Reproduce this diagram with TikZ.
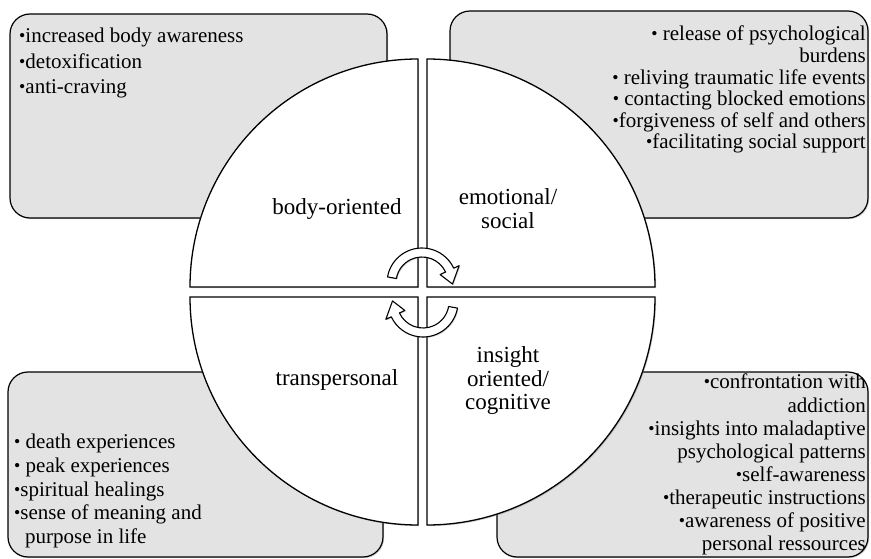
\documentclass[tikz,border=0pt]{standalone}
\usepackage{fontspec}
\setmainfont{Liberation Serif}
\usetikzlibrary{shadows}
\definecolor{boxgrey}{gray}{0.89}
\newcommand\bul[0]{\raisebox{0.05em}{\scalebox{0.85}{\textbullet}}}

\tikzset{
  box/.style={draw=black, line width=1.2pt, fill=boxgrey, rounded corners=20pt,
    drop shadow={shadow xshift=1.2pt, shadow yshift=-1.2pt, opacity=0.35}},
  quad/.style={draw=black, line width=1.3pt, fill=white,
    drop shadow={shadow xshift=1.2pt, shadow yshift=-1.2pt, opacity=0.35}},
  arrowshape/.style={draw=black, line width=1.1pt, fill=white, line join=round,
    drop shadow={shadow xshift=1pt, shadow yshift=-1pt, opacity=0.35}},
  txt/.style={inner sep=0pt, font=\fontsize{21}{23.1}\selectfont},
  lab/.style={inner sep=0pt, align=center, font=\fontsize{23}{23.5}\selectfont},
  cycarrow/.pic={
    \draw[arrowshape] (170:26) -- (170:35) arc[start angle=170, end angle=25, radius=35]
      -- (25:41) -- (-2:30.5) -- (25:20) -- (25:26)
      arc[start angle=25, end angle=170, radius=26] -- cycle;
  }
}

\begin{document}
\begin{tikzpicture}[x=1pt, y=1pt]

\useasboundingbox (0,0) rectangle (871,-559);

\coordinate (UL) at (418,-287);
\coordinate (UR) at (427,-287);
\coordinate (LL) at (418,-297);
\coordinate (LR) at (427,-297);

% grey boxes behind the circle
\draw[box] (10,-14) rectangle (387,-218);
\draw[box] (450,-11) rectangle (868,-218);
\draw[box] (8,-372) rectangle (383,-557);
\draw[box] (497,-372) rectangle (868,-557);

% the four quadrants
\draw[quad] (UL) -- ++(-228,0) arc[start angle=180, end angle=90, radius=228] -- cycle;
\draw[quad] (UR) -- ++(0,228) arc[start angle=90, end angle=0, radius=228] -- cycle;
\draw[quad] (LR) -- ++(228,0) arc[start angle=0, end angle=-90, radius=228] -- cycle;
\draw[quad] (LL) -- ++(0,-228) arc[start angle=-90, end angle=-180, radius=228] -- cycle;

\pic (upper) at (422,-283) {cycarrow};
\pic[rotate=180] (lower) at (423,-302) {cycarrow};

\node[lab] (body) at (337,-209) {body-oriented};
\node[lab] (emo) at (508,-208.5) {emotional/\\social};
\node[lab] (trans) at (337,-380) {transpersonal};
\node[lab] (insight) at (508,-381) {insight\\oriented/\\cognitive};

\node[txt, anchor=north west, align=left, font=\fontsize{21}{25.5}\selectfont] (bodylist) at (19,-28)
  {\bul increased body awareness\\ \bul detoxification\\ \bul anti-craving};
\node[txt, anchor=north east, align=right, font=\fontsize{21}{21.6}\selectfont] (emolist) at (866,-26)
  {\bul\ release of psychological\\ burdens\\ \bul\ reliving traumatic life events\\
   \bul\ contacting blocked emotions\\ \bul forgiveness of self and others\\ \bul facilitating social support};
\node[txt, anchor=north west, align=left, font=\fontsize{21}{23.7}\selectfont] (translist) at (14,-434)
  {\bul\ death experiences\\ \bul\ peak experiences\\ \bul spiritual healings\\
   \bul sense of meaning and\\ \hspace*{11pt}purpose in life};
\node[txt, anchor=north east, align=right] (insightlist) at (866,-374)
  {\bul confrontation with\\ addiction\\ \bul insights into maladaptive\\ psychological patterns\\
   \bul self-awareness\\ \bul therapeutic instructions\\ \bul awareness of positive\\ personal ressources};

\end{tikzpicture}
\end{document}
